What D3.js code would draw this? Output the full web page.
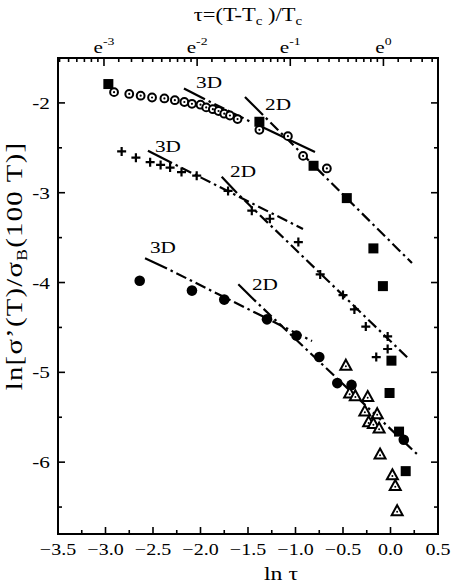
<!DOCTYPE html>
<html>
<head>
<meta charset="utf-8">
<script src="https://cdn.jsdelivr.net/npm/d3@7"></script>
<style>
  body { margin: 0; background: #fff; }
  text { font-family: "Liberation Serif", "Times New Roman", serif; fill: #000; }
</style>
</head>
<body>
<script>
// ---- data (ln tau, ln sigma ratio) ----
var squareX = [-2.97, -1.38, -0.81, -0.46, -0.18, -0.08, 0.01, -0.01, 0.09, 0.16];
var squareY = [-1.79, -2.21, -2.70, -3.06, -3.62, -4.04, -4.87, -5.23, -5.66, -6.10];

var ringX = [-2.91, -2.75, -2.63, -2.51, -2.38, -2.27, -2.17, -2.09, -2.00, -1.94, -1.87, -1.81, -1.75, -1.69, -1.61, -1.38, -1.08, -0.92, -0.67];
var ringY = [-1.88, -1.90, -1.92, -1.94, -1.95, -1.97, -1.99, -2.01, -2.02, -2.05, -2.07, -2.09, -2.12, -2.14, -2.18, -2.30, -2.37, -2.59, -2.73];

var crossX = [-2.83, -2.68, -2.53, -2.42, -2.32, -2.20, -2.04, -1.71, -1.46, -1.27, -0.97, -0.74, -0.50, -0.38, -0.26, -0.03, -0.03, -0.15];
var crossY = [-2.54, -2.61, -2.66, -2.69, -2.72, -2.77, -2.81, -2.98, -3.20, -3.29, -3.55, -3.91, -4.14, -4.30, -4.49, -4.60, -4.74, -4.83];

var dotX = [-2.64, -2.09, -1.75, -1.30, -0.99, -0.75, -0.56, -0.41, 0.14];
var dotY = [-3.98, -4.09, -4.19, -4.41, -4.59, -4.83, -5.12, -5.14, -5.75];

var triX = [-0.47, -0.43, -0.37, -0.24, -0.27, -0.14, -0.23, -0.18, -0.12, -0.11, 0.02, 0.05, 0.07];
var triY = [-4.92, -5.23, -5.26, -5.27, -5.43, -5.46, -5.55, -5.57, -5.62, -5.91, -6.14, -6.26, -6.54];

// fit lines: solid lead-in from -> knee, then dash-dot knee -> to
var fitFrom = [[-2.174, -1.840], [-1.532, -1.934], [-2.553, -2.532], [-1.777, -2.822], [-2.584, -3.731], [-1.602, -4.020]];
var fitKnee = [[-1.953, -1.960], [-1.342, -2.135], [-2.300, -2.669], [-1.616, -3.003], [-2.353, -3.844], [-1.416, -4.213]];
var fitTo   = [[-1.458, -2.218], [ 0.226, -3.783], [-0.921, -3.404], [ 0.184, -4.841], [-0.826, -4.651], [ 0.279, -5.910]];
// plain solid segment through the upper open circles
var solidSeg = [[-1.395, -2.246], [-0.795, -2.547]];

var fitLabels = ["3D", "2D", "3D", "2D", "3D", "2D"];
var labelPos = [[-2.047, -1.834], [-1.321, -2.079], [-2.479, -2.547], [-1.689, -2.825], [-2.532, -3.671], [-1.458, -4.084]];

var xTickVals = [-3.5, -3.0, -2.5, -2.0, -1.5, -1.0, -0.5, 0.0, 0.5];
var yTickVals = [-2, -3, -4, -5, -6];
var topPowers = [-3, -2, -1, 0];

// ---- layout ----
var W = 453, H = 586;
var margin = {left: 58, top: 58};
var pw = 380, ph = 476;

var svg = d3.select('body').append('svg')
  .attr('width', W)
  .attr('height', H);

var g = svg.append('g')
  .attr('transform', `translate(${margin.left},${margin.top})`);

var x = d3.scaleLinear().domain([-3.5, 0.5]).range([0, pw]);
var y = d3.scaleLinear().domain([-6.8, -1.5]).range([ph, 0]);
// the top tau axis in the original sits a little off the bottom one
var xTop = d3.scaleLinear().domain([-3.5, 0.5]).range([-0.6, 372]);

// text drawn a bit wider than Times, like the original
function wideText(sel, px, py, size, anchor) {
  return sel.append('text')
    .attr('transform', `translate(${px},${py}) scale(1.25,1)`)
    .attr('font-size', size)
    .attr('text-anchor', anchor || 'middle');
}

// ---- ticks ----
var ticks = g.append('g')
  .attr('stroke', '#000')
  .attr('stroke-width', 1.6);

var xMinor = d3.range(-3.25, 0.5, 0.5);
var yMinor = d3.range(-2.5, -6.8, -1);

// bottom
xTickVals.forEach(function (v) {
  ticks.append('line').attr('x1', x(v)).attr('x2', x(v)).attr('y1', ph).attr('y2', ph - 7);
});
xMinor.forEach(function (v) {
  ticks.append('line').attr('x1', x(v)).attr('x2', x(v)).attr('y1', ph).attr('y2', ph - 4);
});

// left + right
yTickVals.forEach(function (v) {
  ticks.append('line').attr('x1', 0).attr('x2', 7).attr('y1', y(v)).attr('y2', y(v));
  ticks.append('line').attr('x1', pw).attr('x2', pw - 7).attr('y1', y(v)).attr('y2', y(v));
});
yMinor.forEach(function (v) {
  ticks.append('line').attr('x1', 0).attr('x2', 4).attr('y1', y(v)).attr('y2', y(v));
  ticks.append('line').attr('x1', pw).attr('x2', pw - 4).attr('y1', y(v)).attr('y2', y(v));
});

// top: tau axis, minor ticks split each e-decade in ten linear steps
var topMinor = [];
d3.range(-4, 1).forEach(function (n) {
  var a = Math.exp(n), b = Math.exp(n + 1);
  d3.range(1, 10).forEach(function (k) {
    var v = Math.log(a + k * (b - a) / 10);
    if (xTop(v) > 1 && xTop(v) < pw - 1) topMinor.push(v);
  });
});
topPowers.forEach(function (p) {
  ticks.append('line').attr('x1', xTop(p)).attr('x2', xTop(p)).attr('y1', 0).attr('y2', 8);
});
topMinor.forEach(function (v) {
  ticks.append('line').attr('x1', xTop(v)).attr('x2', xTop(v)).attr('y1', 0).attr('y2', 4);
});

// frame
g.append('rect')
  .attr('width', pw)
  .attr('height', ph)
  .attr('fill', 'none')
  .attr('stroke', '#000')
  .attr('stroke-width', 2);

// ---- tick labels ----
xTickVals.forEach(function (v) {
  wideText(g, x(v), ph + 21, 16).text(d3.format('.1f')(v));
});
yTickVals.forEach(function (v) {
  wideText(g, -8, y(v) + 6, 17, 'end').text(v);
});
topPowers.forEach(function (p) {
  var t = wideText(g, xTop(p), -5, 17);
  t.append('tspan').text('e');
  t.append('tspan').attr('font-size', 11).attr('dy', -8).text(p);
});

// ---- axis titles ----
var tt = wideText(svg, 248, 21, 18);
tt.append('tspan').text('τ=(T-T');
tt.append('tspan').attr('font-size', 12).attr('dy', 4).text('c');
tt.append('tspan').attr('dy', -4).text(' )/T');
tt.append('tspan').attr('font-size', 12).attr('dy', 4).text('c');

wideText(svg, 281, 580, 19).text('ln τ');

var yl = svg.append('text')
  .attr('transform', 'translate(22,266) rotate(-90) scale(1.25,1)')
  .attr('text-anchor', 'middle')
  .attr('font-size', 23)
  .attr('letter-spacing', 1);
yl.append('tspan').text('ln[σ\u2019(T)/σ');
yl.append('tspan').attr('font-size', 14).attr('dy', 5).text('B');
yl.append('tspan').attr('dy', -5).text('(100 T)]');

// ---- fit lines ----
var lines = g.append('g')
  .attr('fill', 'none')
  .attr('stroke', '#000')
  .attr('stroke-width', 2.2);

fitFrom.forEach(function (f, i) {
  var k = fitKnee[i], t = fitTo[i];
  lines.append('line')
    .attr('x1', x(f[0])).attr('y1', y(f[1]))
    .attr('x2', x(k[0])).attr('y2', y(k[1]));
  lines.append('line')
    .attr('x1', x(k[0])).attr('y1', y(k[1]))
    .attr('x2', x(t[0])).attr('y2', y(t[1]))
    .attr('stroke-dasharray', '11,4,2.5,4')
    .attr('stroke-dashoffset', 11);
});
lines.append('line')
  .attr('x1', x(solidSeg[0][0])).attr('y1', y(solidSeg[0][1]))
  .attr('x2', x(solidSeg[1][0])).attr('y2', y(solidSeg[1][1]));

fitLabels.forEach(function (s, i) {
  wideText(g, x(labelPos[i][0]), y(labelPos[i][1]), 17, 'start').text(s);
});

// ---- markers ----
function pairs(xs, ys) { return xs.map(function (v, i) { return [v, ys[i]]; }); }

var marks = g.append('g');

marks.selectAll('.sq').data(pairs(squareX, squareY)).enter()
  .append('rect')
  .attr('class', 'sq')
  .attr('x', d => x(d[0]) - 5)
  .attr('y', d => y(d[1]) - 5)
  .attr('width', 10)
  .attr('height', 10)
  .attr('fill', '#000');

var rings = marks.selectAll('.ring').data(pairs(ringX, ringY)).enter()
  .append('g').attr('class', 'ring')
  .attr('transform', d => `translate(${x(d[0])},${y(d[1])})`);
rings.append('circle').attr('r', 3.9).attr('fill', '#fff').attr('stroke', '#000').attr('stroke-width', 2);
rings.append('circle').attr('r', 1.1).attr('fill', '#000');

marks.selectAll('.cross').data(pairs(crossX, crossY)).enter()
  .append('path')
  .attr('class', 'cross')
  .attr('d', d => `M${x(d[0]) - 4.5},${y(d[1])}h9M${x(d[0])},${y(d[1]) - 4.5}v9`)
  .attr('stroke', '#000')
  .attr('stroke-width', 2.2);

marks.selectAll('.dot').data(pairs(dotX, dotY)).enter()
  .append('circle')
  .attr('class', 'dot')
  .attr('cx', d => x(d[0]))
  .attr('cy', d => y(d[1]))
  .attr('r', 5.3)
  .attr('fill', '#000');

var tris = marks.selectAll('.tri').data(pairs(triX, triY)).enter()
  .append('g').attr('class', 'tri')
  .attr('transform', d => `translate(${x(d[0])},${y(d[1])})`);
tris.append('path').attr('d', 'M0,-5.5L5.5,4.5L-5.5,4.5Z')
  .attr('fill', '#fff').attr('stroke', '#000').attr('stroke-width', 2)
  .attr('stroke-linejoin', 'miter');
tris.append('circle').attr('cy', 1.2).attr('r', 1).attr('fill', '#000');
</script>
</body>
</html>
